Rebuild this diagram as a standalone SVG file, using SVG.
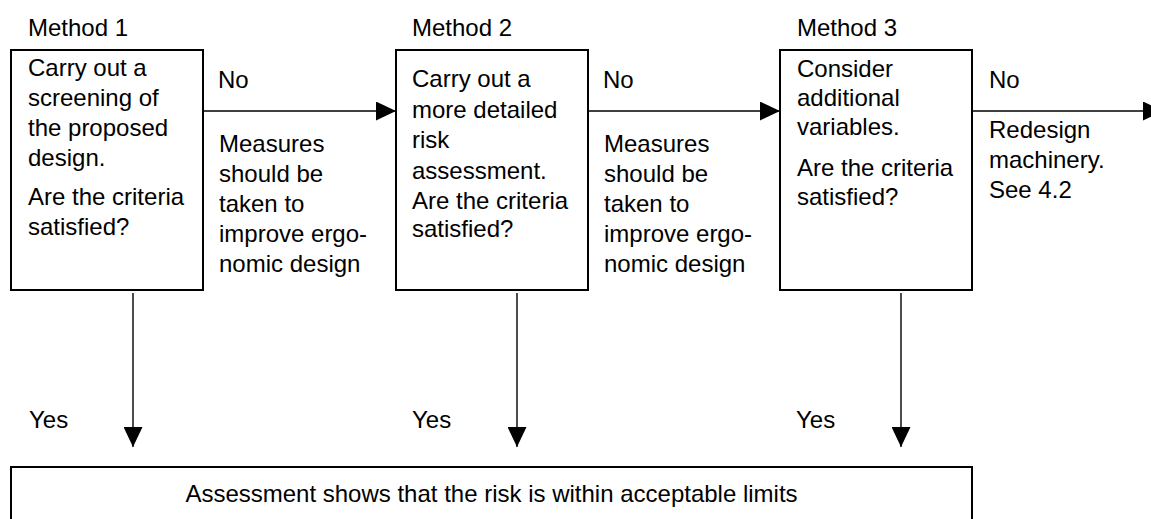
<svg xmlns="http://www.w3.org/2000/svg" width="1151" height="519" viewBox="0 0 1151 519">
<style>
text{font-family:"Liberation Sans",Arial,sans-serif;font-size:24px;fill:#000}
.box{fill:#fff;stroke:#000;stroke-width:2}
.conn{stroke:#000;stroke-width:1.4;fill:none;marker-end:url(#ah)}
</style>
<defs>
<marker id="ah" markerUnits="userSpaceOnUse" markerWidth="20" markerHeight="19" refX="20" refY="9.5" orient="auto">
<path d="M0,0 L20,9.5 L0,19 z" fill="#000"/>
</marker>
</defs>
<rect width="1151" height="519" fill="#fff"/>
<g id="connectors">
<line class="conn" x1="204" y1="111" x2="396" y2="111"/>
<line class="conn" x1="589" y1="111" x2="780" y2="111"/>
<line class="conn" x1="973" y1="111" x2="1163" y2="111"/>
<line class="conn" x1="133" y1="293" x2="133" y2="447"/>
<line class="conn" x1="517" y1="293" x2="517" y2="447"/>
<line class="conn" x1="901" y1="293" x2="901" y2="447"/>
</g>
<g id="labels">
<text x="28" y="36">Method 1</text>
<text x="412" y="36">Method 2</text>
<text x="797" y="36">Method 3</text>
<text x="218" y="88">No</text>
<text x="603" y="88">No</text>
<text x="989" y="88">No</text>
<text x="219"><tspan x="219" y="152">Measures</tspan><tspan x="219" y="182">should be</tspan><tspan x="219" y="212">taken to</tspan><tspan x="219" y="242">improve ergo-</tspan><tspan x="219" y="272">nomic design</tspan></text>
<text x="604"><tspan x="604" y="152">Measures</tspan><tspan x="604" y="182">should be</tspan><tspan x="604" y="212">taken to</tspan><tspan x="604" y="242">improve ergo-</tspan><tspan x="604" y="272">nomic design</tspan></text>
<text x="989"><tspan x="989" y="138">Redesign</tspan><tspan x="989" y="168">machinery.</tspan><tspan x="989" y="198">See 4.2</tspan></text>
<text x="29" y="428">Yes</text>
<text x="412" y="428">Yes</text>
<text x="796" y="428">Yes</text>
</g>
<g id="method1">
<rect class="box" x="11" y="50" width="192" height="240"/>
<text><tspan x="28" y="76">Carry out a</tspan><tspan x="28" y="106">screening of</tspan><tspan x="28" y="136">the proposed</tspan><tspan x="28" y="166">design.</tspan><tspan x="28" y="205">Are the criteria</tspan><tspan x="28" y="235">satisfied?</tspan></text>
</g>
<g id="method2">
<rect class="box" x="396" y="50" width="192" height="240"/>
<text><tspan x="412" y="87">Carry out a</tspan><tspan x="412" y="118">more detailed</tspan><tspan x="412" y="148">risk</tspan><tspan x="412" y="179">assessment.</tspan><tspan x="412" y="209">Are the criteria</tspan><tspan x="412" y="237">satisfied?</tspan></text>
</g>
<g id="method3">
<rect class="box" x="780" y="50" width="192" height="240"/>
<text><tspan x="797" y="77">Consider</tspan><tspan x="797" y="106">additional</tspan><tspan x="797" y="135">variables.</tspan><tspan x="797" y="176">Are the criteria</tspan><tspan x="797" y="205">satisfied?</tspan></text>
</g>
<g id="result">
<rect class="box" x="11" y="467" width="961" height="70"/>
<text x="491.5" y="502" text-anchor="middle">Assessment shows that the risk is within acceptable limits</text>
</g>
</svg>
